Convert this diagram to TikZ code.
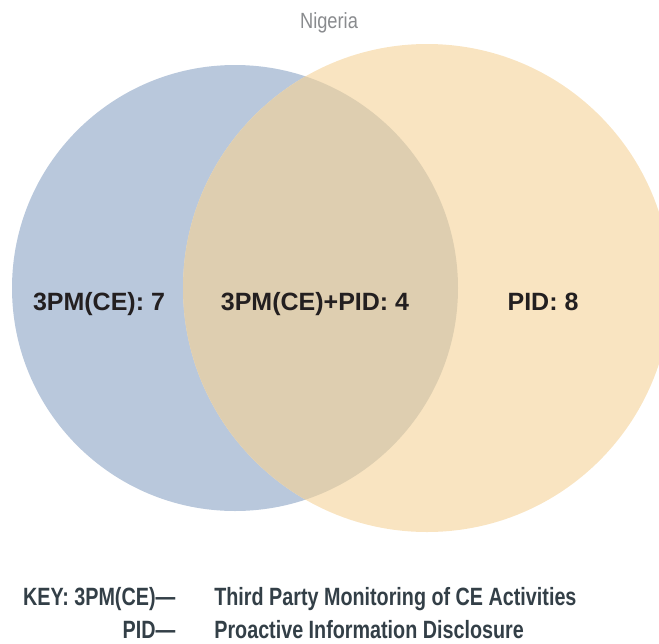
\documentclass[tikz,border=0pt]{standalone}
\usepackage{fontspec}
\usepackage{tikz}
\usetikzlibrary{matrix}
\newfontfamily\labelfont{Liberation Sans}
\newfontfamily\keyfont[FakeStretch=0.79]{Liberation Sans}
\newfontfamily\titlefont[FakeStretch=0.83]{Liberation Sans}
\definecolor{ceblue}{HTML}{B9C8DC}
\definecolor{pidtan}{HTML}{F9E4C1}
\definecolor{bothtan}{HTML}{DECEB0}
\definecolor{labelink}{HTML}{231F20}
\definecolor{keyink}{HTML}{333F47}
\definecolor{titlegray}{HTML}{898B8E}
\tikzset{
	setlabel/.style={anchor=base,inner sep=0pt,text=labelink,font=\labelfont\bfseries\fontsize{25}{30}\selectfont},
}

\begin{document}
\begin{tikzpicture}[x=1pt,y=-1pt]
			\useasboundingbox (0,0) rectangle (659,643);
			\clip (0,0) rectangle (659,643);
			% the two sets
			\fill[ceblue] (235,288) circle (223);
			\fill[pidtan] (427,288) circle (244);
			\begin{scope}
				\clip (235,288) circle (223);
				\fill[bothtan] (427,288) circle (244);
			\end{scope}
			\node (title) [anchor=base,inner sep=0pt,text=titlegray,font=\titlefont\fontsize{22}{26}\selectfont] at (329,28) {Nigeria};
			\node (ce) [setlabel] at (99,310) {3PM(CE): 7};
			\node (both) [setlabel] at (315,310) {3PM(CE)+PID: 4};
			\node (pid) [setlabel] at (543,310) {PID: 8};
			% key
			\matrix (key) [matrix of nodes,inner sep=0pt,column sep=39pt,row sep=10pt,anchor=north west,
				nodes={inner sep=0pt,text height=18pt,text depth=5pt,text=keyink,font=\keyfont\bfseries\fontsize{25}{30}\selectfont},
				column 1/.style={anchor=base east},column 2/.style={anchor=base west}] at (23,587)
			{
				KEY: 3PM(CE)— & Third Party Monitoring of CE Activities\\
				PID— & Proactive Information Disclosure\\};
		\end{tikzpicture}
\end{document}
